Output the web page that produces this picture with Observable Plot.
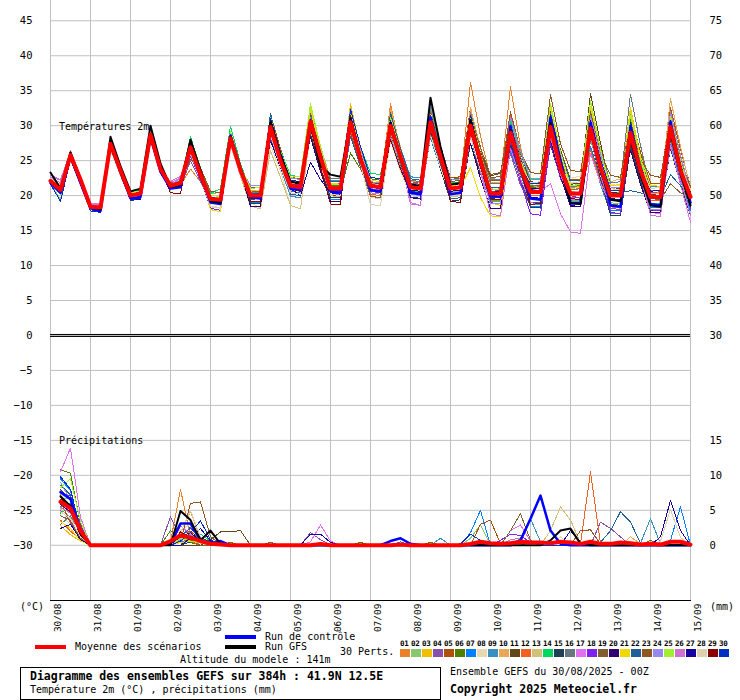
<!DOCTYPE html>
<html><head><meta charset="utf-8">
<script src="https://cdn.jsdelivr.net/npm/d3@7"></script>
<script src="https://cdn.jsdelivr.net/npm/@observablehq/plot@0.6"></script>
<style>
body{margin:0;background:#fff;}
#wrap{position:relative;width:740px;height:700px;overflow:hidden;background:#fff;font-family:"DejaVu Sans Mono",monospace;color:#000;}
#chart{position:absolute;left:0;top:0;}
.t{position:absolute;white-space:nowrap;line-height:1;}
.sw{position:absolute;}
</style></head>
<body><div id="wrap"><div id="chart"></div></div>
<script>
// ---------- data ----------
const dateLabels = ["30/08","31/08","01/09","02/09","03/09","04/09","05/09","06/09","07/09","08/09","09/09","10/09","11/09","12/09","13/09","14/09","15/09"];
const memberLabels = ["01","02","03","04","05","06","07","08","09","10","11","12","13","14","15","16","17","18","19","20","21","22","23","24","25","26","27","28","29","30"];
const memberColors = ["#e8802c","#88c870","#f0c000","#8850a8","#b05008","#508000","#0080ff","#e8d8b0","#3890c0","#e8a858","#604818","#f06020","#d0c078","#00d860","#204058","#687880","#e070f0","#8020f0","#806030","#300070","#f0d800","#206098","#905820","#9888f0","#a0f030","#d070d0","#1800a0","#e0d0b0","#880000","#0030c0"];
const leftTicks = [-30,-25,-20,-15,-10,-5,0,5,10,15,20,25,30,35,40,45];
const rightTicks = [-30,-25,-20,-15,0,5,10,15,20,25,30,35,40,45];

// 2 m temperature (°C), every 6 h from 30/08 00Z
const t01 = [22.5,21.2,26.2,22.6, 18.6,18.5,27.8,24.0, 20.2,20.6,29.2,24.2, 21.0,21.5,23.8,22.0, 19.0,19.2,27.6,23.2, 20.4,20.3,30.5,25.6, 21.8,21.5,31.2,26.0, 21.5,21.6,31.5,26.0, 21.8,21.6,33.1,26.5, 21.6,21.4,31.5,26.2, 21.8,22.0,36.2,28.5, 22.5,22.2,35.6,27.0, 21.0,21.3,30.5,24.5, 21.2,21.0,30.8,24.8, 20.8,20.6,30.2,24.2, 20.5,20.4,30.8,24.5, 20.4];
const t02 = [21.6,19.5,25.4,21.8, 18.2,18.0,27.0,23.2, 19.8,20.0,28.4,23.4, 21.6,22.0,27.4,23.4, 20.2,20.5,28.6,24.0, 19.6,19.4,29.2,24.4, 20.8,20.6,30.0,25.0, 20.5,20.4,31.0,25.8, 22.0,21.8,29.6,25.0, 20.8,20.5,31.2,26.0, 20.5,20.8,28.6,24.0, 19.5,19.2,27.8,23.0, 21.2,21.4,31.5,25.0, 21.8,21.5,32.5,25.8, 19.0,18.8,27.5,22.6, 18.6,18.4,28.5,22.8, 18.6];
const t03 = [22.3,21.0,26.0,22.4, 18.0,17.8,27.2,23.4, 20.4,20.6,29.0,24.0, 21.2,21.5,26.6,22.8, 18.0,17.7,28.0,23.4, 20.5,20.6,30.4,25.4, 21.0,20.8,31.0,25.8, 21.6,21.4,33.1,26.6, 20.8,20.6,29.2,24.8, 20.5,20.2,30.0,25.0, 21.4,21.6,31.0,25.8, 19.0,18.6,27.0,22.8, 21.6,21.8,33.0,26.0, 19.2,19.0,31.8,25.0, 21.0,21.2,32.6,25.5, 20.6,20.8,32.0,25.0, 20.8];
const t04 = [22.0,20.5,25.6,22.0, 18.5,18.4,27.6,23.8, 19.7,19.9,28.3,23.6, 21.0,21.2,25.0,22.0, 19.8,19.6,27.8,23.2, 20.3,20.4,30.6,25.6, 21.6,21.5,30.2,25.2, 20.7,20.6,30.8,25.4, 21.0,20.8,29.6,25.2, 21.8,21.6,32.4,26.6, 21.5,21.8,31.5,25.6, 21.0,20.6,26.0,21.5, 18.5,18.2,28.0,22.8, 20.8,21.0,30.5,24.5, 18.2,18.0,28.5,23.0, 20.5,20.3,31.0,24.6, 19.5];
const t05 = [22.2,21.4,26.4,22.6, 18.8,18.6,28.0,24.0, 20.5,20.8,29.2,24.2, 21.6,22.0,27.6,23.6, 19.2,19.0,28.8,24.0, 20.8,20.8,31.6,26.7, 22.6,22.4,32.6,26.6, 21.5,21.5,32.0,26.8, 22.4,22.2,32.2,26.7, 22.0,21.8,32.5,27.1, 22.5,22.7,32.5,26.9, 22.1,22.1,32.0,26.4, 21.5,21.5,31.8,26.6, 22.3,22.3,32.8,26.8, 21.5,21.5,31.5,26.2, 21.8,21.8,32.6,26.6, 21.3];
const t06 = [21.8,20.2,25.5,21.9, 18.3,18.1,27.0,23.3, 20.1,20.4,28.8,23.9, 21.2,21.4,26.4,22.7, 19.0,18.8,27.8,23.4, 19.0,19.0,28.5,24.6, 21.6,21.4,32.2,25.9, 20.4,20.6,26.1,23.8, 22.4,22.2,31.2,25.2, 20.0,19.8,29.0,25.2, 22.3,22.5,30.8,24.6, 19.3,19.5,27.5,24.0, 21.3,21.1,31.0,25.8, 21.3,21.5,27.0,22.5, 18.8,18.6,31.2,25.7, 21.0,21.2,28.2,23.1, 18.8];
const t07 = [21.9,20.6,25.9,22.1, 18.6,18.4,27.3,23.5, 19.9,20.1,28.5,23.6, 21.3,21.6,27.2,23.2, 19.4,19.2,28.4,23.8, 19.0,19.0,28.3,24.0, 20.6,20.4,29.4,24.0, 19.5,19.5,28.5,24.3, 20.9,20.7,29.0,24.1, 20.0,19.8,28.3,23.8, 20.0,20.2,28.4,23.2, 18.8,18.8,26.5,22.1, 18.5,18.5,28.3,23.4, 19.3,19.3,27.0,22.0, 17.8,17.8,27.2,22.4, 18.3,18.3,27.3,22.2, 17.8];
const t08 = [22.4,21.3,25.6,22.0, 18.2,18.0,26.8,23.0, 19.6,19.8,27.8,23.2, 21.8,22.2,26.2,22.6, 18.5,18.3,27.4,23.0, 19.0,18.2,27.2,23.5, 18.6,18.1,29.5,24.5, 20.2,20.0,29.6,24.6, 19.8,19.5,28.6,24.2, 20.6,20.4,29.4,24.8, 20.2,20.4,28.8,24.2, 19.8,19.6,28.4,23.6, 21.4,21.6,29.0,23.4, 22.5,22.8,31.0,25.0, 21.6,21.4,28.2,23.4, 21.4,21.2,30.2,24.0, 20.5];
const t09 = [22.0,20.9,26.1,22.3, 18.5,18.3,27.5,23.6, 20.3,20.6,29.0,24.0, 21.5,21.9,27.0,23.0, 19.6,19.5,28.0,23.5, 20.5,20.5,29.0,24.0, 19.9,19.7,31.6,26.5, 22.2,22.2,31.0,25.3, 20.4,20.2,31.8,26.8, 22.7,22.5,29.0,24.2, 20.2,20.4,32.0,26.8, 22.3,22.3,27.0,22.4, 18.7,18.7,32.3,26.4, 21.3,21.3,26.6,21.6, 17.5,17.5,30.5,25.5, 21.3,21.3,27.8,22.9, 18.8];
const t10 = [22.3,21.1,26.3,22.5, 18.7,18.6,27.8,23.8, 20.2,20.5,28.9,24.1, 21.7,22.1,26.0,22.8, 19.7,19.5,28.5,23.8, 20.8,20.8,30.6,25.3, 20.8,20.6,32.4,27.0, 22.4,22.4,31.3,26.0, 21.6,21.4,32.5,26.9, 22.1,21.9,29.7,24.6, 20.4,20.6,32.6,26.8, 21.9,21.9,31.0,25.6, 21.0,21.2,30.6,25.6, 21.5,21.3,31.6,25.1, 19.4,19.4,30.5,25.0, 20.2,20.4,33.9,27.0, 21.0];
const t11 = [22.2,21.0,25.9,22.2, 18.4,18.2,27.2,23.4, 20.0,20.2,28.6,23.8, 21.3,21.7,27.8,23.6, 19.3,19.2,28.0,23.4, 19.5,19.5,30.8,26.1, 22.2,22.0,32.1,25.6, 20.0,20.0,31.3,26.2, 21.9,21.7,28.8,24.2, 20.4,20.2,31.7,26.5, 22.2,22.4,30.5,26.2, 22.8,23.2,31.0,26.1, 22.0,21.8,32.0,26.4, 21.6,21.8,34.6,27.5, 21.2,21.0,29.5,24.4, 20.2,20.0,29.6,24.2, 19.5];
const t12 = [22.0,20.7,25.7,22.1, 18.3,18.2,27.3,23.5, 20.1,20.3,28.8,23.9, 21.6,21.9,27.3,23.3, 19.6,19.4,28.4,23.7, 21.2,21.2,30.3,25.2, 20.9,20.7,32.8,26.9, 21.8,21.8,29.0,24.2, 20.2,20.0,31.0,26.2, 22.2,22.0,32.5,26.6, 21.5,21.7,31.8,25.2, 19.3,19.3,31.5,25.4, 20.0,20.0,28.3,23.6, 19.8,19.8,26.5,22.1, 18.5,18.5,27.5,23.0, 19.3,19.3,29.2,23.8, 19.2];
const t13 = [22.4,21.6,25.0,21.8, 18.1,17.9,26.6,22.8, 19.5,19.8,28.0,23.2, 21.2,21.5,26.6,22.6, 19.8,19.6,27.5,22.8, 18.5,18.1,26.4,22.6, 18.6,18.1,29.2,24.2, 20.0,19.8,29.2,24.4, 20.6,20.4,29.0,24.6, 20.2,20.0,28.8,24.4, 19.8,20.0,28.5,23.8, 20.4,20.6,29.4,24.0, 20.6,20.8,30.0,24.0, 20.6,20.4,29.4,23.8, 22.0,22.4,31.5,24.8, 20.0,19.8,28.6,22.8, 20.0];
const t14 = [22.2,20.6,26.0,22.6, 18.6,18.5,27.6,23.8, 20.5,20.9,29.6,24.4, 21.7,22.1,28.4,24.0, 20.3,21.0,29.9,24.6, 20.6,20.6,30.6,26.4, 22.9,22.7,33.1,26.2, 20.2,20.2,31.5,27.0, 23.2,23.0,29.2,24.6, 20.7,20.5,32.7,26.8, 21.8,22.0,28.8,23.6, 19.1,19.1,30.8,26.2, 22.3,22.3,32.8,25.6, 19.1,19.1,27.8,23.8, 20.5,20.5,31.8,24.9, 18.8,18.8,30.8,25.3, 20.6];
const t15 = [21.7,20.3,25.3,21.7, 18.0,17.6,26.9,23.2, 19.3,19.5,28.2,23.4, 21.0,21.3,26.5,22.5, 19.2,19.0,28.2,23.6, 18.8,18.8,28.8,24.4, 20.9,20.7,28.8,23.9, 19.8,19.8,29.9,24.5, 19.9,19.7,28.0,23.9, 20.6,20.4,29.3,23.8, 19.2,19.4,27.5,23.1, 19.5,19.5,27.5,22.5, 18.3,18.3,27.2,22.6, 18.8,18.8,28.4,22.4, 17.2,17.2,27.0,22.0, 17.8,17.8,26.8,21.6, 17.2];
const t16 = [22.1,21.0,25.8,22.2, 18.4,18.3,27.4,23.6, 20.0,20.3,28.7,23.8, 21.4,21.8,27.0,23.1, 19.5,19.4,28.3,23.7, 19.2,19.2,31.3,26.2, 22.0,21.8,29.6,25.6, 22.5,22.5,32.3,26.2, 20.8,20.6,30.5,26.0, 22.2,22.0,29.7,24.4, 20.0,20.2,31.0,26.0, 21.8,21.8,30.0,25.4, 21.5,21.3,31.8,25.9, 20.8,21.0,32.0,26.5, 21.8,22.0,34.5,27.2, 20.8,20.6,31.4,25.6, 20.6];
const t17 = [22.6,21.8,26.4,22.8, 18.9,18.8,27.9,23.9, 20.2,20.4,28.6,23.7, 21.8,22.6,26.2,22.6, 19.0,18.9,28.0,23.4, 20.2,20.2,30.0,25.2, 21.6,21.4,31.0,25.8, 20.4,20.2,30.0,24.8, 20.4,20.2,29.8,25.0, 19.0,18.6,29.8,25.0, 20.0,20.2,29.2,24.4, 20.8,21.0,30.0,24.8, 20.8,20.6,21.7,17.4, 14.8,14.6,26.0,21.8, 18.6,18.4,28.6,23.0, 17.6,17.4,27.2,21.6, 16.2];
const t18 = [22.0,21.0,26.2,22.4, 18.3,18.2,27.6,23.7, 20.1,20.3,28.9,24.0, 21.5,21.8,25.6,22.4, 18.2,17.9,27.5,23.2, 20.1,20.2,30.2,25.4, 21.6,21.5,31.4,26.0, 21.2,21.1,31.8,26.0, 21.6,21.4,30.6,25.8, 21.2,21.0,30.4,25.4, 20.6,20.8,30.8,25.0, 19.0,18.8,27.4,22.0, 17.4,17.2,27.6,22.4, 20.0,19.6,29.0,23.8, 17.6,17.4,28.2,23.2, 18.0,17.8,29.4,23.6, 18.2];
const t19 = [22.2,21.1,26.0,22.3, 18.5,18.4,27.5,23.6, 20.2,20.4,28.8,23.9, 21.5,21.8,26.8,22.9, 19.4,19.3,28.0,23.5, 21.2,21.2,28.8,24.2, 20.4,20.2,31.8,26.2, 21.5,21.5,29.0,24.0, 19.9,19.7,31.5,26.1, 21.5,21.3,28.7,25.0, 22.0,22.2,31.5,26.8, 23.0,23.3,29.5,25.0, 21.2,21.0,30.0,25.1, 21.0,21.2,28.0,23.8, 20.4,20.2,28.5,23.6, 19.6,19.4,21.7,20.4, 19.6];
const t20 = [21.9,20.8,25.7,22.0, 18.2,18.1,27.2,23.4, 19.8,20.0,28.5,23.6, 21.3,21.7,26.9,22.9, 19.4,19.3,28.0,23.4, 18.5,18.5,29.2,25.2, 21.9,21.7,28.4,23.4, 19.2,19.2,31.0,26.2, 22.2,22.0,28.5,23.7, 19.7,19.5,31.3,26.0, 21.5,21.7,27.5,22.4, 18.1,18.1,30.0,25.1, 21.0,21.0,27.8,22.8, 18.5,18.5,31.1,24.9, 19.5,19.5,26.5,21.6, 17.6,17.6,30.3,24.2, 18.8];
const t21 = [22.5,21.5,26.3,22.6, 18.6,18.5,27.7,23.8, 20.3,20.6,29.1,24.2, 21.4,21.8,27.5,23.4, 18.0,17.7,28.6,24.0, 20.6,20.7,31.0,25.8, 22.0,21.8,32.4,26.4, 21.8,21.6,32.0,26.2, 22.2,22.0,31.4,26.2, 21.4,21.2,31.6,26.2, 21.4,21.2,24.0,19.7, 17.1,17.0,28.0,23.6, 21.8,22.0,32.6,26.0, 21.0,21.2,32.8,26.2, 21.4,21.6,32.2,25.6, 21.5,21.3,31.6,25.0, 21.0];
const t22 = [21.8,20.4,25.6,21.9, 18.2,18.0,27.1,23.3, 19.9,20.1,28.4,23.5, 21.2,21.5,26.7,22.8, 19.3,19.1,28.0,23.4, 20.3,20.3,31.8,25.6, 20.2,20.0,31.4,26.3, 22.0,22.0,28.5,24.2, 20.6,20.4,31.8,26.7, 22.4,22.2,30.0,24.4, 19.5,19.7,31.2,25.8, 21.1,21.1,28.0,23.1, 19.0,19.0,31.3,26.3, 22.1,22.1,30.1,24.8, 20.2,20.4,20.7,20.4, 20.0,19.8,23.0,21.4, 19.4];
const t23 = [22.3,21.2,26.1,22.4, 18.6,18.5,27.6,23.7, 20.2,20.5,29.0,24.0, 21.8,22.0,25.2,24.0, 20.6,20.4,28.6,24.0, 20.5,20.6,31.0,25.8, 21.6,21.4,30.8,25.8, 21.4,21.2,31.0,25.6, 21.6,21.4,30.8,26.0, 21.4,21.2,31.0,25.8, 21.6,21.8,31.0,26.0, 22.5,22.8,32.0,26.2, 23.3,23.1,34.4,27.4, 23.6,23.4,32.0,26.0, 22.9,22.6,30.6,25.2, 22.9,22.6,31.0,25.2, 21.2];
const t24 = [22.7,22.2,26.3,22.6, 18.7,18.6,27.3,23.4, 20.1,20.3,28.5,23.6, 21.6,22.4,26.0,22.4, 19.6,19.4,28.3,23.8, 21.5,21.5,28.6,25.2, 22.5,22.3,30.8,25.1, 20.2,20.2,32.5,26.8, 22.0,21.8,28.5,24.0, 20.2,20.0,33.0,27.2, 22.2,22.4,29.0,23.5, 18.8,18.8,31.2,26.4, 22.5,22.5,29.0,23.8, 19.5,19.5,31.4,25.9, 21.2,21.2,28.0,22.6, 18.0,18.0,32.0,25.8, 20.4];
const t25 = [21.9,20.2,25.8,22.1, 18.5,18.4,27.5,23.6, 20.4,20.7,29.1,24.2, 21.5,21.9,27.6,23.6, 20.0,19.9,29.2,24.2, 21.0,21.2,31.2,26.2, 22.6,22.8,33.1,27.0, 21.6,21.5,31.6,26.0, 21.5,21.3,31.2,26.0, 21.5,21.3,30.8,25.8, 21.2,21.4,31.5,26.0, 21.0,20.8,30.2,25.0, 21.6,21.8,33.2,26.2, 21.4,21.6,33.6,26.6, 20.8,20.6,31.5,25.2, 20.6,20.8,31.2,25.0, 20.2];
const t26 = [22.9,22.3,26.2,22.5, 18.8,18.7,27.6,23.6, 20.2,20.4,28.7,23.8, 22.0,22.8,26.4,22.4, 19.3,19.2,28.1,23.5, 20.0,20.0,29.8,25.0, 22.0,21.8,31.2,25.6, 20.8,20.6,30.4,25.0, 21.0,20.8,30.0,25.0, 18.8,18.6,30.2,25.0, 19.2,19.0,28.6,23.4, 17.4,17.1,26.8,22.4, 19.0,18.8,28.4,23.0, 19.4,19.2,28.2,23.0, 18.4,18.2,28.0,22.8, 17.2,17.0,28.4,22.4, 17.2];
const t27 = [22.0,20.6,26.0,22.2, 18.2,18.0,28.4,24.0, 19.4,19.5,28.8,23.8, 21.0,21.2,27.0,23.0, 19.7,19.6,28.3,23.6, 20.0,20.1,27.9,24.0, 21.0,20.0,24.8,22.3, 20.4,20.2,29.8,24.8, 21.2,21.0,30.2,25.2, 20.8,20.6,30.4,25.2, 20.6,20.8,29.8,24.6, 19.6,19.4,28.2,23.4, 19.8,19.6,29.4,23.6, 18.6,18.4,28.8,23.2, 19.6,19.4,30.2,24.2, 20.6,20.8,30.8,24.4, 20.4];
const t28 = [22.5,21.4,25.5,21.9, 18.0,17.9,26.9,23.0, 19.8,20.0,28.2,23.4, 21.4,21.9,26.0,22.6, 18.4,18.2,27.2,22.8, 19.6,19.4,28.6,24.2, 20.4,20.2,29.6,24.8, 20.2,20.0,29.5,24.6, 18.7,18.6,27.9,23.5, 20.0,19.8,28.6,24.0, 20.0,20.2,28.4,23.8, 19.8,20.0,29.0,24.4, 21.8,22.0,29.6,24.0, 21.8,22.0,30.4,24.8, 21.0,20.8,29.4,24.0, 21.0,21.2,30.2,24.2, 20.8];
const t29 = [22.0,20.9,25.9,22.2, 18.4,18.2,27.4,23.6, 20.0,20.2,28.6,23.8, 20.4,20.3,27.3,23.3, 19.6,19.5,28.4,23.8, 19.2,19.2,30.6,25.4, 21.0,20.6,30.0,24.0, 18.8,18.7,31.5,25.8, 20.8,20.6,28.0,23.8, 20.5,20.3,31.5,25.0, 19.2,19.0,29.2,24.0, 19.6,19.4,29.5,23.7, 18.7,18.9,30.8,24.8, 19.6,19.4,28.6,24.2, 20.5,20.3,27.5,22.8, 18.8,18.6,30.4,24.0, 18.4];
const t30 = [21.6,19.2,25.2,21.6, 17.8,17.6,26.8,23.0, 19.4,19.6,28.0,23.2, 21.0,21.3,26.4,22.4, 19.0,18.8,27.6,23.2, 19.6,19.6,31.0,26.2, 22.2,22.0,29.6,24.8, 20.8,20.7,32.3,27.0, 22.6,22.4,30.8,24.9, 19.8,19.6,31.0,25.9, 21.6,21.8,31.5,25.2, 19.8,19.8,27.2,24.0, 21.7,21.7,31.6,24.8, 18.9,18.9,30.4,25.2, 20.8,20.8,30.5,24.2, 18.6,18.6,28.8,23.5, 19.0];
const tCtl = [21.8,20.4,25.6,21.8, 18.2,17.8,27.4,23.4, 19.6,19.8,28.4,23.4, 21.0,21.2,27.2,23.0, 19.0,18.8,28.6,23.8, 19.8,19.6,30.0,25.0, 21.0,20.8,30.8,25.4, 20.6,20.4,31.0,25.4, 20.8,20.6,30.4,25.4, 20.4,20.2,31.2,25.8, 20.2,20.4,30.6,25.0, 20.0,19.8,30.0,24.2, 19.6,19.4,31.2,25.0, 18.9,18.9,30.4,24.2, 18.6,18.4,29.8,23.6, 18.8,18.6,30.6,23.8, 19.0];
const tGfs = [23.3,21.0,26.2,22.4, 18.3,18.0,28.4,24.2, 20.6,21.0,30.0,24.6, 21.2,21.5,28.0,23.6, 19.2,19.0,28.4,24.0, 20.0,20.2,30.6,25.8, 22.0,21.8,30.2,24.2, 23.0,22.7,31.0,25.6, 21.4,21.2,30.4,25.6, 21.6,21.4,34.0,27.0, 21.6,21.8,30.8,25.4, 20.4,20.6,29.4,24.0, 20.8,20.6,30.4,24.2, 18.9,18.8,29.2,23.6, 19.4,19.2,28.4,22.8, 18.6,18.4,28.8,23.0, 18.6];
const tMean = [22.1,20.8,25.8,22.3, 18.4,18.3,27.4,23.6, 20.0,20.3,28.7,23.8, 21.4,21.8,26.9,23.0, 19.5,19.4,28.2,23.6, 20.0,20.0,29.8,25.0, 21.4,21.2,30.6,25.5, 21.0,21.0,30.5,25.2, 21.4,21.2,30.0,25.5, 21.2,21.0,30.5,25.5, 21.0,21.2,30.0,25.0, 20.3,20.3,29.0,24.0, 20.5,20.5,29.8,23.8, 20.3,20.3,29.6,24.0, 20.0,20.0,29.0,23.6, 19.8,19.8,29.8,23.6, 19.8];

// precipitation (mm per 6 h): [step index, mm]; steps not listed read as 0
const p01 = [[1,7.2],[2,5.0],[3,1.5],[12,0.5],[13,8.0],[14,1.2],[15,0.3],[48,0.4],[49,0.6]];
const p02 = [[1,6.5],[2,6.8],[3,2.0],[13,1.0],[14,0.8],[42,1.0],[43,2.9],[57,0.3]];
const p03 = [[1,2.8],[2,1.5],[3,0.6],[13,0.6],[14,1.4],[15,0.5],[52,0.4]];
const p04 = [[1,5.0],[2,3.5],[3,1.0],[12,4.1],[13,1.0],[14,0.6],[26,1.8],[27,0.8],[55,3.3],[56,2.4],[57,1.2]];
const p05 = [[1,6.0],[2,4.6],[3,1.8],[13,1.6],[14,2.0],[15,0.8],[43,3.0],[44,3.6],[45,0.2]];
const p06 = [[1,10.8],[2,10.3],[3,3.0],[12,2.1],[13,1.2],[14,0.4],[18,0.4],[31,0.4],[38,0.4]];
const p07 = [[1,9.5],[2,7.8],[3,2.4],[14,1.5],[15,0.9],[35,0.5],[42,1.8],[43,5.0],[62,0.7],[63,5.5]];
const p08 = [[1,4.4],[2,3.0],[3,0.8],[13,2.2],[14,3.0],[15,1.0],[51,1.2]];
const p09 = [[1,5.5],[2,6.0],[3,1.2],[14,0.8],[39,1.0],[47,1.0],[48,3.8],[49,0.5],[59,0.3],[60,3.8],[61,0.2]];
const p10 = [[1,7.8],[2,6.6],[3,2.2],[13,1.8],[14,4.8],[15,1.0],[58,1.2],[59,0.2]];
const p11 = [[1,6.6],[2,5.8],[3,1.6],[16,0.8],[17,1.9],[18,1.9],[19,2.1]];
const p12 = [[1,3.6],[2,2.0],[3,0.8],[13,1.5],[14,0.6],[53,0.2],[54,10.5],[55,0.2]];
const p13 = [[1,5.2],[2,4.0],[3,1.0],[14,1.2],[15,0.5],[50,2.1],[51,5.5],[52,3.6],[53,0.3]];
const p14 = [[1,4.6],[2,5.4],[3,2.6],[13,0.8],[14,1.4],[15,1.6],[16,0.6]];
const p15 = [[1,8.0],[2,6.5],[3,1.4],[14,0.5],[15,1.2],[16,0.4]];
const p16 = [[1,3.0],[2,4.2],[3,1.8],[13,0.4],[14,1.0]];
const p17 = [[1,10.5],[2,13.9],[3,4.0],[13,0.6],[14,1.2],[26,0.5],[27,2.9],[28,0.6],[46,2.1],[47,2.9],[48,0.6]];
const p18 = [[1,7.5],[2,7.0],[3,2.8],[13,1.4],[14,2.4],[15,0.9],[45,0.7],[46,1.6],[47,1.4],[48,0.4]];
const p19 = [[1,4.2],[2,3.6],[3,1.2],[13,0.8],[14,0.8],[22,0.4],[46,2.1],[47,4.5],[48,0.7],[60,0.7]];
const p20 = [[1,5.8],[2,4.8],[3,1.4],[13,1.2],[14,1.8],[15,0.6]];
const p21 = [[1,3.4],[2,2.4],[3,0.6],[13,0.4],[14,0.6],[15,0.3]];
const p22 = [[1,8.6],[2,7.2],[3,2.0],[13,1.0],[14,2.6],[15,0.8],[55,0.4],[56,2.1],[57,4.8],[58,3.3],[59,0.3]];
const p23 = [[1,6.2],[2,3.2],[3,1.0],[13,0.6],[14,6.0],[15,6.2],[16,1.2],[17,0.2],[53,2.1],[54,2.2],[55,0.2]];
const p24 = [[1,9.0],[2,6.4],[3,1.6],[13,0.8],[14,1.6],[15,0.4]];
const p25 = [[1,8.2],[2,9.5],[3,3.4],[13,1.0],[14,0.6],[15,0.4]];
const p26 = [[1,5.4],[2,4.6],[3,1.6],[13,2.8],[14,1.6],[15,0.4],[46,0.8],[47,1.0]];
const p27 = [[1,2.4],[2,3.0],[3,0.8],[14,1.0],[15,2.4],[16,0.6],[26,1.6],[27,1.6],[28,0.4],[52,2.1],[53,0.4],[61,1.2],[62,6.4],[63,2.1]];
const p28 = [[1,4.8],[2,3.8],[3,1.2],[13,1.8],[14,5.0],[15,1.2],[61,0.6],[62,5.1],[63,1.1]];
const p29 = [[1,6.8],[2,5.2],[3,2.0],[13,1.9],[14,1.0],[15,0.6]];
const p30 = [[1,9.8],[2,8.0],[3,2.2],[13,0.6],[14,1.8],[15,3.5],[16,0.8],[41,0.2],[42,1.6],[43,0.7]];
const pCtl = [[1,7.6],[2,6.6],[3,1.8],[12,0.2],[13,3.1],[14,3.1],[15,0.8],[16,0.2],[17,0.6],[34,0.6],[35,1.0],[36,0.2],[47,0.7],[48,3.8],[49,7.1],[50,2.1],[51,0.2]];
const pGfs = [[1,7.0],[2,5.6],[3,1.6],[13,4.9],[14,3.6],[15,0.7],[16,2.1],[17,0.2],[50,0.7],[51,2.1],[52,2.4],[53,0.2]];
const pMean = [[1,6.2],[2,5.3],[3,2.1],[12,0.6],[13,1.4],[14,1.1],[15,0.6],[16,0.2],[17,0.1],[27,0.2],[35,0.1],[42,0.2],[43,0.5],[44,0.3],[45,0.2],[46,0.3],[47,0.5],[48,0.4],[49,0.4],[50,0.3],[51,0.5],[52,0.4],[53,0.2],[54,0.5],[55,0.2],[56,0.2],[57,0.4],[58,0.3],[59,0.1],[60,0.2],[61,0.1],[62,0.5],[63,0.5],[64,0.1]];

// ---------- build ----------
const STEP = 6, NSTEP = 65;
const tempMembers = [t01,t02,t03,t04,t05,t06,t07,t08,t09,t10,t11,t12,t13,t14,t15,t16,t17,t18,t19,t20,t21,t22,t23,t24,t25,t26,t27,t28,t29,t30];
const precMembers = [p01,p02,p03,p04,p05,p06,p07,p08,p09,p10,p11,p12,p13,p14,p15,p16,p17,p18,p19,p20,p21,p22,p23,p24,p25,p26,p27,p28,p29,p30];
const PREC_BASE = -30; // 0 mm sits on the -30 line of the left scale

const tempRows = arr => arr.map((v, i) => ({h: i * STEP, v}));
const precRows = pairs => {
  const m = new Map(pairs);
  const rows = [];
  for (let i = 1; i < NSTEP; i++) {
    const mm = m.has(i) ? m.get(i) : 0;
    rows.push({h: i * STEP, mm, v: mm + PREC_BASE});
  }
  return rows;
};
const dayTicks = dateLabels.map((d, i) => i * 24);

const marks = [
  Plot.gridY(leftTicks, {stroke: "#c0c0c0", strokeOpacity: 1}),
  Plot.gridX(dayTicks, {stroke: "#c0c0c0", strokeOpacity: 1}),
  Plot.ruleY([0], {stroke: "#000", dy: -1}),
  Plot.ruleY([0], {stroke: "#000", dy: 1}),
  Plot.frame({anchor: "bottom", stroke: "#000"}),
  Plot.axisY(leftTicks, {anchor: "left", tickSize: 0, tickPadding: 18, fontSize: 10.5, label: null}),
  Plot.axisY(rightTicks, {anchor: "right", tickSize: 0, tickPadding: 19, fontSize: 10.5, label: null, tickFormat: d => String(d + 30)}),
  Plot.axisX(dayTicks, {anchor: "bottom", tickSize: 0, tickPadding: 3, tickRotate: -90, textAnchor: "end", lineAnchor: "middle", dx: 7, fontSize: 9.5, label: null, tickFormat: d => dateLabels[d / 24]})
];

tempMembers.forEach((arr, k) => {
  const rows = tempRows(arr);
  marks.push(Plot.line(rows, {x: "h", y: "v", stroke: memberColors[k], strokeWidth: 1, shapeRendering: "crispEdges"}));
  marks.push(Plot.dot(rows, {x: "h", y: "v", symbol: "plus", r: 1.7, fill: memberColors[k], stroke: null}));
});
precMembers.forEach((pairs, k) => {
  const rows = precRows(pairs);
  marks.push(Plot.line(rows, {x: "h", y: "v", stroke: memberColors[k], strokeWidth: 1, shapeRendering: "crispEdges"}));
  marks.push(Plot.dot(rows.filter(r => r.mm > 0), {x: "h", y: "v", symbol: "plus", r: 1.7, fill: memberColors[k], stroke: null}));
});
// control run, GFS run, ensemble mean
marks.push(Plot.line(tempRows(tCtl), {x: "h", y: "v", stroke: "#0000ff", strokeWidth: 2.5}));
marks.push(Plot.line(precRows(pCtl), {x: "h", y: "v", stroke: "#0000ff", strokeWidth: 2.5}));
marks.push(Plot.line(tempRows(tGfs), {x: "h", y: "v", stroke: "#000000", strokeWidth: 2}));
marks.push(Plot.line(precRows(pGfs), {x: "h", y: "v", stroke: "#000000", strokeWidth: 2}));
marks.push(Plot.line(tempRows(tMean), {x: "h", y: "v", stroke: "#ff0000", strokeWidth: 4}));
marks.push(Plot.line(precRows(pMean), {x: "h", y: "v", stroke: "#ff0000", strokeWidth: 4}));

const chart = Plot.plot({
  width: 740, height: 640,
  marginLeft: 50, marginRight: 50, marginTop: 0, marginBottom: 40,
  style: {fontFamily: "'DejaVu Sans Mono', monospace", fontSize: "10.5px", background: "#fff", color: "#000", overflow: "visible"},
  x: {domain: [0, 384], axis: null},
  y: {domain: [-37.9, 47.9], axis: null},
  marks
});
document.getElementById("chart").appendChild(chart);

// ---------- texts & legend ----------
const wrap = document.getElementById("wrap");
function txt(s, x, baseline, size, bold) {
  const d = document.createElement("div");
  d.className = "t";
  d.textContent = s;
  d.style.left = x + "px";
  d.style.top = (baseline - 0.846 * size) + "px";
  d.style.fontSize = size + "px";
  if (bold) d.style.fontWeight = "bold";
  wrap.appendChild(d);
  return d;
}
function box(x, y, w, h, bg, border) {
  const d = document.createElement("div");
  d.className = "sw";
  d.style.left = x + "px"; d.style.top = y + "px";
  d.style.width = w + "px"; d.style.height = h + "px";
  if (bg) d.style.background = bg;
  if (border) { d.style.border = border; d.style.boxSizing = "border-box"; }
  wrap.appendChild(d);
}
txt("Températures 2m", 59, 130.3, 10);
txt("Précipitations", 59, 444.3, 10);
txt("(°C)", 20, 610, 10);
txt("(mm)", 710, 610, 10);

box(35, 645, 31, 4, "#ff0000");
txt("Moyenne des scénarios", 75, 650, 10);
box(225, 635, 31, 4, "#0000ff");
txt("Run de contrôle", 265, 640, 10);
box(225, 645, 31, 4, "#000000");
txt("Run GFS", 265, 650, 10);
txt("Altitude du modele : 141m", 180, 663.5, 10);
txt("30 Perts.", 340, 655.5, 10);

memberLabels.forEach((lab, k) => {
  const x = 400 + k * 11;
  const n = txt(lab, x, 646.8, 7.5, true);
  n.style.letterSpacing = "-0.3px";
  box(x, 649, 10, 8, memberColors[k]);
});

box(20, 667, 421, 33, null, "1px solid #000");
txt("Diagramme des ensembles GEFS sur 384h : 41.9N 12.5E", 30, 680.5, 11.5, true);
txt("Température 2m (°C) , précipitations (mm)", 30, 693, 10);
txt("Ensemble GEFS du 30/08/2025 - 00Z", 450, 675.3, 10);
txt("Copyright 2025 Meteociel.fr", 450, 694, 11.5, true);
</script>
</body></html>
